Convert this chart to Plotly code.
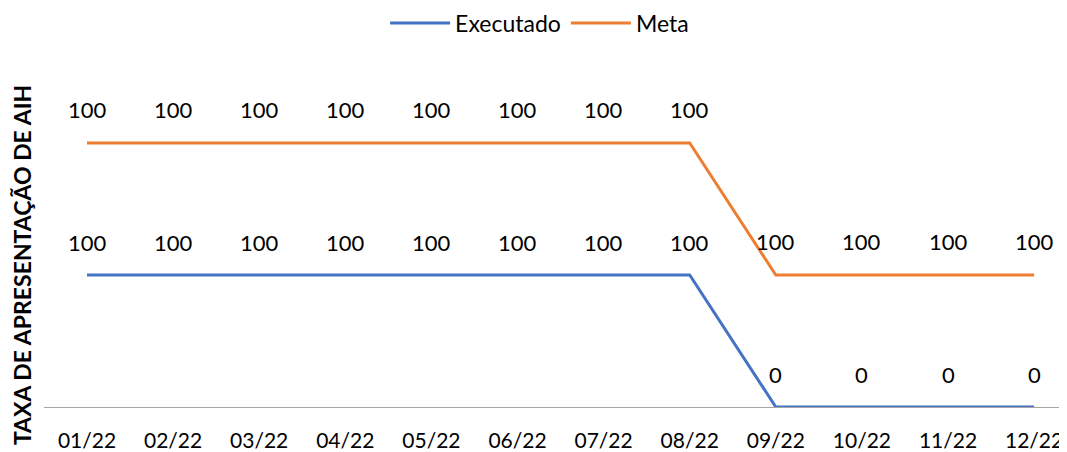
import plotly.graph_objects as go

categories = ["01/22", "02/22", "03/22", "04/22", "05/22", "06/22",
              "07/22", "08/22", "09/22", "10/22", "11/22", "12/22"]
executado = [100, 100, 100, 100, 100, 100, 100, 100, 0, 0, 0, 0]
meta = [100, 100, 100, 100, 100, 100, 100, 100, 100, 100, 100, 100]

# stacked line chart (cumulative)
exec_stack = executado[:]
meta_stack = [e + m for e, m in zip(executado, meta)]

FONT = "Lato"
xs = list(range(len(categories)))

fig = go.Figure()
fig.add_trace(go.Scatter(x=xs, y=exec_stack, mode="lines", name="Executado",
                         line=dict(color="#4472C4", width=3)))
fig.add_trace(go.Scatter(x=xs, y=meta_stack, mode="lines", name="Meta",
                         line=dict(color="#ED7D31", width=3)))

annotations = []
for i in xs:
    annotations.append(dict(x=i, y=exec_stack[i], text=str(executado[i]), showarrow=False,
                            yshift=33, font=dict(family=FONT, size=22, color="black")))
    annotations.append(dict(x=i, y=meta_stack[i], text=str(meta[i]), showarrow=False,
                            yshift=34, font=dict(family=FONT, size=22, color="black")))

annotations.append(dict(xref="paper", yref="paper", x=-0.0215, y=0.409,
                        text="<b>TAXA DE APRESENTAÇÃO DE AIH</b>", textangle=-90,
                        showarrow=False, xanchor="center", yanchor="middle",
                        font=dict(family=FONT, size=23, color="black")))

fig.update_layout(
    width=1059, height=444,
    margin=dict(l=36, r=0, t=52, b=45),
    paper_bgcolor="white", plot_bgcolor="white",
    font=dict(family=FONT, size=22, color="black"),
    showlegend=True,
    legend=dict(orientation="h", xref="container", yref="container",
                x=0.502, xanchor="center", y=1 - 15 / 444, yanchor="middle",
                font=dict(family=FONT, size=23, color="black"),
                itemwidth=60, tracegroupgap=0),
    annotations=annotations,
    xaxis=dict(tickmode="array", tickvals=xs, ticktext=categories,
               range=[-0.4994, 11.382], showgrid=False, zeroline=False,
               showline=False, ticks="outside", ticklen=15, tickcolor="rgba(0,0,0,0)",
               tickfont=dict(family=FONT, size=21, color="black"), automargin=False),
    yaxis=dict(range=[0, 262.9], showgrid=False, zeroline=True, zerolinecolor="#A6A6A6",
               zerolinewidth=1, showticklabels=False, ticks="", showline=False,
               automargin=False),
)

fig.write_html("out.html")
